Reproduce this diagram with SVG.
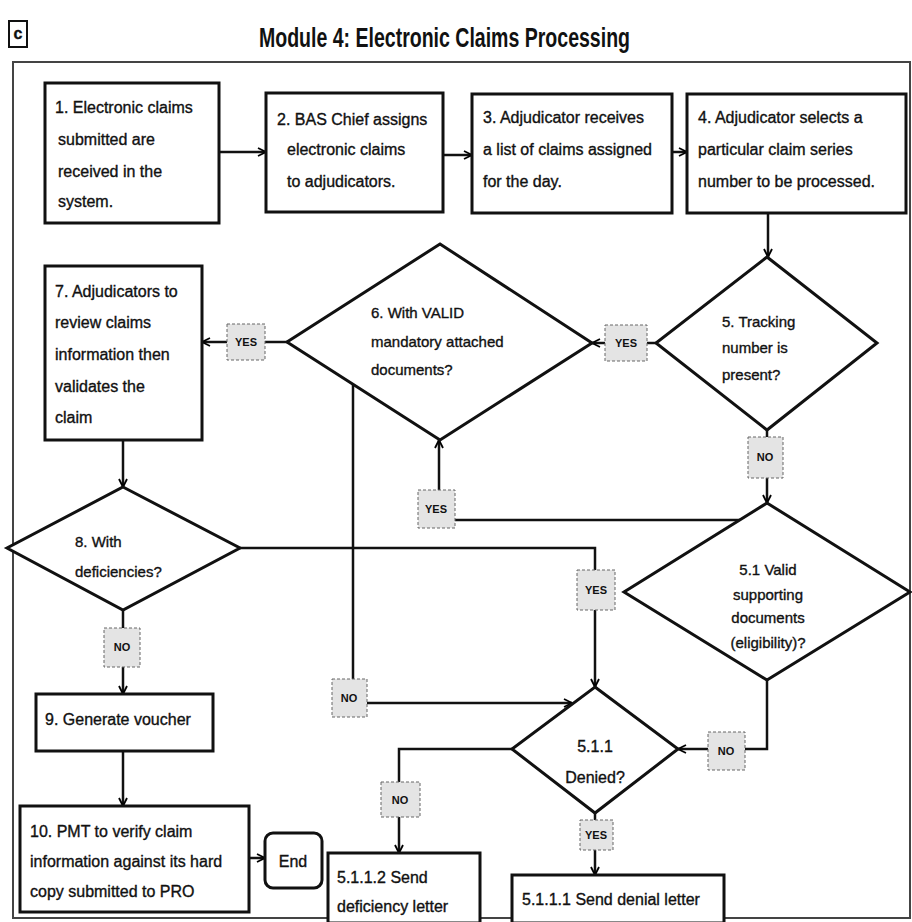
<svg xmlns="http://www.w3.org/2000/svg" width="912" height="922" viewBox="0 0 912 922">
<defs>
<marker id="arr" viewBox="0 0 10 10" refX="9" refY="5" markerWidth="10" markerHeight="10" markerUnits="userSpaceOnUse" orient="auto">
<path d="M1,1 L9,5 L1,9" fill="none" stroke="#000" stroke-width="1.8"/>
</marker>
<style>
.box{fill:#fff;stroke:#111;stroke-width:3}
.dia{fill:#fff;stroke:#111;stroke-width:3;stroke-linejoin:miter}
.t{font-family:"Liberation Sans",Arial,sans-serif;font-size:16px;fill:#111;stroke:#111;stroke-width:0.35}
.td{font-family:"Liberation Sans",Arial,sans-serif;font-size:15px;fill:#111;stroke:#111;stroke-width:0.35}
.c{fill:none;stroke:#111;stroke-width:2.5}
.ca{fill:none;stroke:#111;stroke-width:2.5;marker-end:url(#arr)}
.lb{fill:#e4e4e4;stroke:#666;stroke-width:1;stroke-dasharray:3,2}
.lt{font-family:"Liberation Sans",Arial,sans-serif;font-size:11px;font-weight:bold;fill:#111;text-anchor:middle}
</style>
</defs>
<rect width="912" height="922" fill="#fff"/>
<g id="header">
<rect x="9" y="21" width="18" height="26" fill="#fff" stroke="#111" stroke-width="2"/>
<text x="18" y="39" class="t" text-anchor="middle" font-weight="bold">c</text>
<text x="259" y="47" font-family="'Liberation Sans',Arial,sans-serif" font-size="28" font-weight="bold" fill="#111" textLength="371" lengthAdjust="spacingAndGlyphs">Module 4: Electronic Claims Processing</text>
</g>
<rect id="frame" x="13" y="62" width="897" height="856" fill="none" stroke="#444" stroke-width="2"/>

<g id="connectors">
<line class="ca" x1="219" y1="152" x2="266" y2="152"/>
<line class="ca" x1="443" y1="155" x2="472" y2="155"/>
<line class="ca" x1="672" y1="152" x2="687" y2="152"/>
<line class="ca" x1="768" y1="213" x2="768" y2="257"/>
<line class="c" x1="656" y1="343" x2="647" y2="343"/>
<line class="ca" x1="605" y1="343" x2="592" y2="343"/>
<line class="c" x1="287" y1="342" x2="265" y2="342"/>
<line class="ca" x1="227" y1="342" x2="202" y2="342"/>
<line class="ca" x1="123" y1="440" x2="123" y2="487"/>
<line class="c" x1="123" y1="610" x2="123" y2="628"/>
<line class="ca" x1="123" y1="667" x2="123" y2="694"/>
<line class="ca" x1="123" y1="751" x2="123" y2="806"/>
<line class="ca" x1="249" y1="858" x2="265" y2="858"/>
<line class="c" x1="767" y1="430" x2="767" y2="437"/>
<line class="ca" x1="767" y1="478" x2="767" y2="503"/>
<polyline class="c" points="740,520 455,520"/>
<line class="ca" x1="439" y1="490" x2="439" y2="440"/>
<polyline class="c" points="240,548 595,548 595,570"/>
<line class="ca" x1="595" y1="610" x2="595" y2="687"/>
<line class="c" x1="353" y1="384" x2="353" y2="679"/>
<line class="ca" x1="367" y1="703" x2="572" y2="703"/>
<polyline class="c" points="767,680 767,749 745,749"/>
<line class="ca" x1="708" y1="749" x2="678" y2="749"/>
<polyline class="c" points="512,749 399,749 399,782"/>
<line class="ca" x1="399" y1="817" x2="399" y2="853"/>
<line class="c" x1="595" y1="813" x2="595" y2="820"/>
<line class="ca" x1="595" y1="850" x2="595" y2="875"/>
</g>

<g id="n1">
<rect class="box" x="45" y="83" width="174" height="140"/>
<text class="t" x="55" y="113">1. Electronic claims</text>
<text class="t" x="58" y="145">submitted  are</text>
<text class="t" x="58" y="177">received in the</text>
<text class="t" x="58" y="207">system.</text>
</g>
<g id="n2">
<rect class="box" x="266" y="93" width="177" height="119"/>
<text class="t" x="277" y="125">2. BAS Chief assigns</text>
<text class="t" x="287" y="155">electronic  claims</text>
<text class="t" x="287" y="187">to adjudicators.</text>
</g>
<g id="n3">
<rect class="box" x="472" y="94" width="200" height="119"/>
<text class="t" x="483" y="123">3. Adjudicator receives</text>
<text class="t" x="483" y="155">a list of claims assigned</text>
<text class="t" x="483" y="187">for the day.</text>
</g>
<g id="n4">
<rect class="box" x="687" y="94" width="219" height="119"/>
<text class="t" x="698" y="123">4. Adjudicator selects a</text>
<text class="t" x="698" y="155">particular claim series</text>
<text class="t" x="698" y="187">number to be processed.</text>
</g>
<g id="n5">
<polygon class="dia" points="767,257 877,343 767,430 656,343"/>
<text class="td" x="722" y="327">5. Tracking</text>
<text class="td" x="722" y="353">number is</text>
<text class="td" x="722" y="380">present?</text>
</g>
<g id="n6">
<polygon class="dia" points="440,244 592,343 440,440 287,342"/>
<text class="td" x="371" y="318">6. With VALID</text>
<text class="td" x="371" y="347">mandatory attached</text>
<text class="td" x="371" y="375">documents?</text>
</g>
<g id="n7">
<rect class="box" x="45" y="266" width="157" height="174"/>
<text class="t" x="55" y="297">7. Adjudicators to</text>
<text class="t" x="55" y="328">review  claims</text>
<text class="t" x="55" y="360">information then</text>
<text class="t" x="55" y="392">validates  the</text>
<text class="t" x="55" y="423">claim</text>
</g>
<g id="n8">
<polygon class="dia" points="123,487 240,548 123,610 7,548"/>
<text class="td" x="75" y="547">8. With</text>
<text class="td" x="75" y="577">deficiencies?</text>
</g>
<g id="n9">
<rect class="box" x="36" y="694" width="177" height="57"/>
<text class="t" x="45" y="725">9. Generate  voucher</text>
</g>
<g id="n10">
<rect class="box" x="20" y="806" width="229" height="106"/>
<text class="t" x="30" y="837">10. PMT to verify claim</text>
<text class="t" x="30" y="867">information against its hard</text>
<text class="t" x="30" y="897">copy submitted to PRO</text>
</g>
<g id="end">
<rect class="box" x="265" y="833" width="57" height="55" rx="8" ry="8"/>
<text class="t" x="293" y="867" text-anchor="middle">End</text>
</g>
<g id="n51">
<polygon class="dia" points="767,503 910,592 767,680 624,592"/>
<text class="td" x="768" y="575" text-anchor="middle">5.1 Valid</text>
<text class="td" x="768" y="600" text-anchor="middle">supporting</text>
<text class="td" x="768" y="623" text-anchor="middle">documents</text>
<text class="td" x="768" y="648" text-anchor="middle">(eligibility)?</text>
</g>
<g id="n511">
<polygon class="dia" points="595,687 678,749 595,813 512,749"/>
<text class="t" x="595" y="752" text-anchor="middle">5.1.1</text>
<text class="t" x="595" y="783" text-anchor="middle">Denied?</text>
</g>
<g id="n5112">
<rect class="box" x="328" y="853" width="152" height="70"/>
<text class="t" x="337" y="883">5.1.1.2 Send</text>
<text class="t" x="337" y="912">deficiency letter</text>
</g>
<g id="n5111">
<rect class="box" x="512" y="875" width="212" height="48"/>
<text class="t" x="522" y="905">5.1.1.1 Send denial letter</text>
</g>

<g id="labels">
<g id="l1"><rect class="lb" x="605" y="325" width="42" height="36"/><text class="lt" x="626" y="347">YES</text></g>
<g id="l2"><rect class="lb" x="227" y="324" width="38" height="36"/><text class="lt" x="246" y="346">YES</text></g>
<g id="l3"><rect class="lb" x="418" y="490" width="37" height="38"/><text class="lt" x="436" y="513">YES</text></g>
<g id="l4"><rect class="lb" x="748" y="437" width="35" height="41"/><text class="lt" x="765" y="461">NO</text></g>
<g id="l5"><rect class="lb" x="104" y="628" width="36" height="39"/><text class="lt" x="122" y="651">NO</text></g>
<g id="l6"><rect class="lb" x="577" y="570" width="38" height="40"/><text class="lt" x="596" y="594">YES</text></g>
<g id="l7"><rect class="lb" x="332" y="679" width="35" height="38"/><text class="lt" x="349" y="702">NO</text></g>
<g id="l8"><rect class="lb" x="708" y="732" width="37" height="38"/><text class="lt" x="726" y="755">NO</text></g>
<g id="l9"><rect class="lb" x="381" y="782" width="39" height="35"/><text class="lt" x="400" y="804">NO</text></g>
<g id="l10"><rect class="lb" x="580" y="820" width="33" height="30"/><text class="lt" x="596" y="839">YES</text></g>
</g>
</svg>
